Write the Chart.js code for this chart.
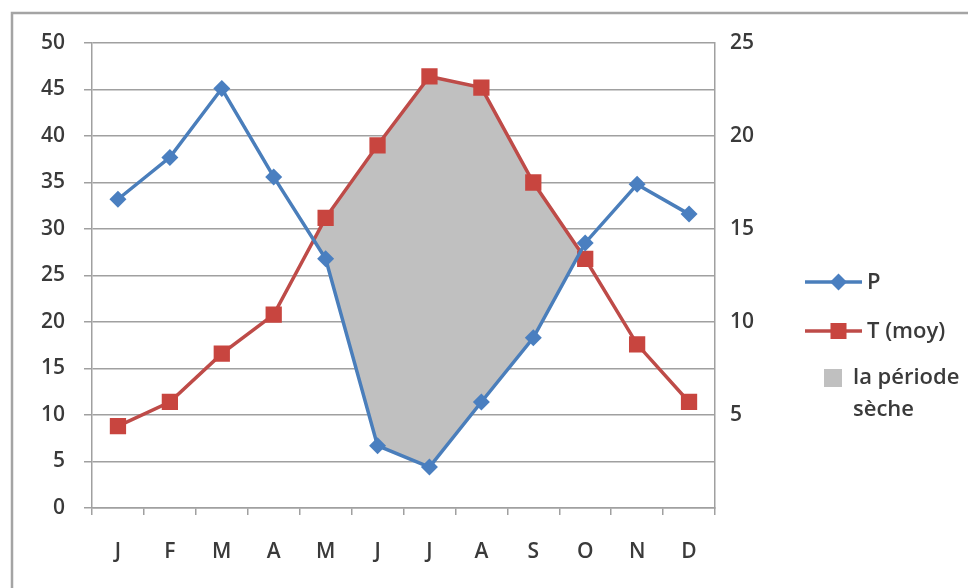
<!DOCTYPE html>
<html lang="fr">
<head>
<meta charset="utf-8">
<title>Diagramme ombrothermique</title>
<script src="https://cdn.jsdelivr.net/npm/chart.js@4/dist/chart.umd.min.js"></script>
<style>
  html, body { margin: 0; padding: 0; background: #ffffff; }
  #wrap { position: relative; width: 968px; height: 588px; }
  canvas { display: block; }
</style>
</head>
<body>
<div id="wrap"><canvas id="chart" width="968" height="588"></canvas></div>
<script>
// Mois (abscisse)
const months = ['J', 'F', 'M', 'A', 'M', 'J', 'J', 'A', 'S', 'O', 'N', 'D'];
// Précipitations mensuelles (mm) — axe de gauche
const precipitation = [33.2, 37.7, 45.1, 35.6, 26.8, 6.7, 4.4, 11.4, 18.3, 28.5, 34.8, 31.6];
// Températures moyennes (°C) — axe de droite
const temperature = [4.4, 5.7, 8.3, 10.4, 15.6, 19.5, 23.2, 22.6, 17.5, 13.4, 8.8, 5.7];
// Bornes et pas des deux axes (P = 2T)
const precipAxis = { min: 0, max: 50, step: 5 };
const tempAxis = { min: 0, max: 25, step: 5 };
// Libellés de la légende
const labelP = 'P';
const labelT = 'T (moy)';
const labelDry = ['la période', 'sèche'];

const FONT = "'Open Sans', 'DejaVu Sans', sans-serif";
const WEIGHT = '600';
const TEXT = '#3a3a3a';
const GRID = '#a0a0a0';
const BLUE = '#4a7ebb';
const BLUE_PT = '#4a7fc0';
const RED = '#be4b48';
const RED_PT = '#c8453f';
const DRY = '#c0c0c0';

// Cadre, et légende dessinée à droite de la zone de tracé
const frameAndLegend = {
  id: 'frameAndLegend',
  beforeDraw(chart) {
    const ctx = chart.ctx;
    ctx.save();
    ctx.fillStyle = '#ffffff';
    ctx.fillRect(0, 0, chart.width, chart.height);
    ctx.strokeStyle = '#a4a4a4';
    ctx.lineWidth = 2.5;
    ctx.beginPath();
    ctx.moveTo(12, chart.height);
    ctx.lineTo(12, 13);
    ctx.lineTo(chart.width, 13);
    ctx.stroke();
    ctx.restore();
  },
  afterDraw(chart) {
    const ctx = chart.ctx;
    const area = chart.chartArea;
    const x0 = area.right + 90;
    const x1 = area.right + 147;
    const xm = (x0 + x1) / 2 + 5;
    const xt = area.right + 152;
    const dsP = chart.data.datasets[0];
    const dsT = chart.data.datasets[1];
    ctx.save();
    ctx.font = WEIGHT + ' 22px ' + FONT;
    ctx.textBaseline = 'middle';
    ctx.textAlign = 'left';

    // P
    let y = 282;
    ctx.strokeStyle = dsP.borderColor;
    ctx.lineWidth = 3.5;
    ctx.beginPath(); ctx.moveTo(x0, y); ctx.lineTo(x1, y); ctx.stroke();
    ctx.fillStyle = dsP.pointBackgroundColor;
    ctx.beginPath();
    ctx.moveTo(xm, y - 8.5); ctx.lineTo(xm + 8.5, y); ctx.lineTo(xm, y + 8.5); ctx.lineTo(xm - 8.5, y);
    ctx.closePath(); ctx.fill();
    ctx.fillStyle = TEXT;
    ctx.fillText(dsP.label, xt, y + 1);

    // T (moy)
    y = 331;
    ctx.strokeStyle = dsT.borderColor;
    ctx.beginPath(); ctx.moveTo(x0, y); ctx.lineTo(x1, y); ctx.stroke();
    ctx.fillStyle = dsT.pointBackgroundColor;
    ctx.fillRect(xm - 8, y - 8, 16, 16);
    ctx.fillStyle = TEXT;
    ctx.fillText(dsT.label, xt, y + 1);

    // la période sèche
    y = 378;
    ctx.fillStyle = DRY;
    ctx.fillRect(area.right + 109, y - 9, 18, 18);
    ctx.fillStyle = TEXT;
    ctx.fillText(labelDry[0], area.right + 138, y);
    ctx.fillText(labelDry[1], area.right + 138, y + 32);
    ctx.restore();
  }
};

const tickFont = { family: FONT, size: 21, weight: WEIGHT };

new Chart(document.getElementById('chart'), {
  type: 'line',
  data: {
    labels: months,
    datasets: [
      {
        label: labelP,
        data: precipitation,
        yAxisID: 'yP',
        borderColor: BLUE,
        borderWidth: 3.5,
        pointStyle: 'rectRot',
        pointRadius: 8.5,
        pointHoverRadius: 8.5,
        pointBackgroundColor: BLUE_PT,
        pointBorderColor: BLUE_PT,
        pointBorderWidth: 0,
        tension: 0,
        // zone où la courbe P passe sous la courbe T : période sèche
        fill: { target: 1, above: 'rgba(0,0,0,0)', below: DRY }
      },
      {
        label: labelT,
        data: temperature,
        yAxisID: 'yT',
        borderColor: RED,
        borderWidth: 3.5,
        pointStyle: 'rect',
        pointRadius: 11.5,
        pointHoverRadius: 11.5,
        pointBackgroundColor: RED_PT,
        pointBorderColor: RED_PT,
        pointBorderWidth: 0,
        tension: 0,
        fill: false
      }
    ]
  },
  options: {
    responsive: false,
    animation: false,
    events: [],
    layout: { padding: { top: 43, left: 0, right: 0, bottom: 0 } },
    plugins: {
      legend: { display: false },
      tooltip: { enabled: false },
      filler: { drawTime: 'beforeDatasetsDraw' }
    },
    scales: {
      x: {
        offset: true,
        grid: {
          offset: true,
          drawOnChartArea: false,
          drawTicks: true,
          tickLength: 7,
          color: GRID,
          lineWidth: 1.5
        },
        border: { display: true, color: GRID, width: 1.5 },
        ticks: { color: TEXT, font: tickFont, padding: 24, maxRotation: 0 },
        afterFit(scale) { scale.height = 80; }
      },
      yP: {
        position: 'left',
        min: precipAxis.min,
        max: precipAxis.max,
        grid: { color: GRID, lineWidth: 1.5, tickLength: 8, drawTicks: true },
        border: { display: true, color: GRID, width: 1.5 },
        ticks: {
          stepSize: precipAxis.step,
          color: TEXT,
          font: tickFont,
          padding: 19
        },
        afterFit(scale) { scale.width = 92; }
      },
      yT: {
        position: 'right',
        min: tempAxis.min,
        max: tempAxis.max,
        grid: { drawOnChartArea: false, drawTicks: false },
        border: { display: true, color: GRID, width: 1.5 },
        ticks: {
          stepSize: tempAxis.step,
          color: TEXT,
          font: tickFont,
          padding: 15,
          callback: (v) => (v === 0 ? '' : v)
        },
        afterFit(scale) { scale.width = 253; }
      }
    }
  },
  plugins: [frameAndLegend]
});
</script>
</body>
</html>
